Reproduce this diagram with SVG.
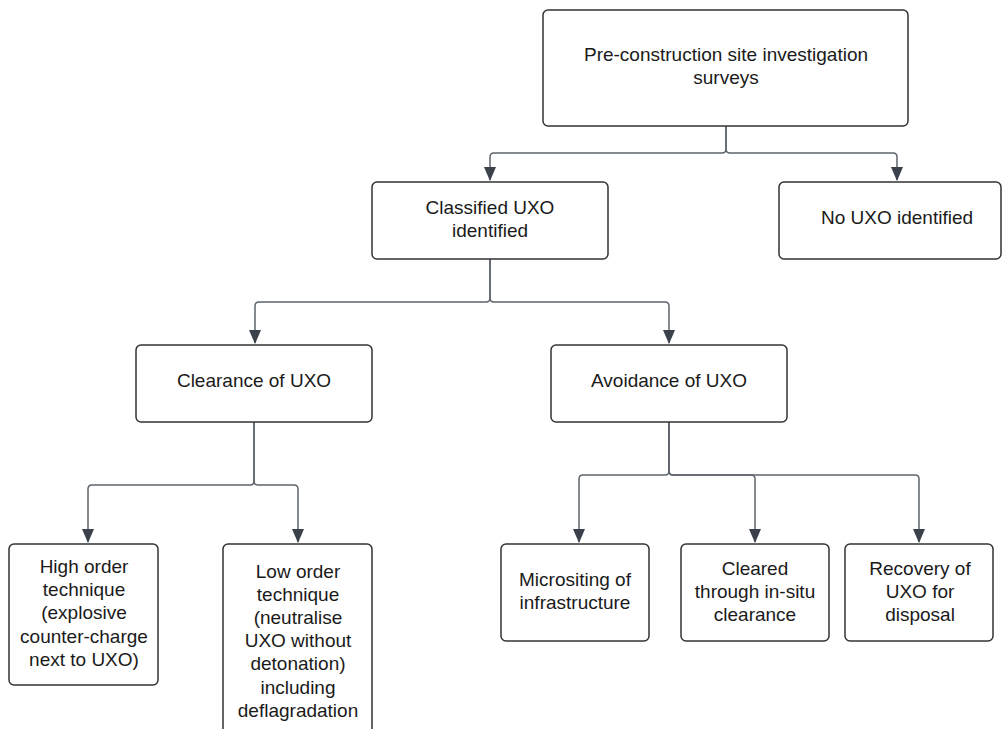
<svg xmlns="http://www.w3.org/2000/svg" width="1003" height="729" viewBox="0 0 1003 729">
<style>
.box{fill:#ffffff;stroke:#333333;stroke-width:1.5}
.t{font-family:"Liberation Sans",Arial,sans-serif;font-size:19px;fill:#1a1a1a;text-anchor:middle}
.c{fill:none;stroke:#5e646d;stroke-width:1.5}
</style>
<defs>
<marker id="ahd" markerUnits="userSpaceOnUse" markerWidth="14" markerHeight="12" refX="13" refY="6" orient="auto" viewBox="0 0 14 12">
<path d="M0,0 L14,6 L0,12 Z" fill="#3a414a"/>
</marker>
</defs>
<rect width="1003" height="729" fill="#ffffff"/>
<g id="connectors">
<path class="c" marker-end="url(#ahd)" d="M726,126 V149 Q726,153 722,153 H494 Q490,153 490,157 V180"/>
<path class="c" marker-end="url(#ahd)" d="M726,126 V149 Q726,153 730,153 H893 Q897,153 897,157 V180"/>
<path class="c" marker-end="url(#ahd)" d="M490,259 V298 Q490,302 486,302 H259 Q255,302 255,306 V343"/>
<path class="c" marker-end="url(#ahd)" d="M490,259 V298 Q490,302 494,302 H665 Q669,302 669,306 V343"/>
<path class="c" marker-end="url(#ahd)" d="M254,422 V481 Q254,485 250,485 H92 Q88,485 88,489 V542"/>
<path class="c" marker-end="url(#ahd)" d="M254,422 V481 Q254,485 258,485 H294 Q298,485 298,489 V542"/>
<path class="c" marker-end="url(#ahd)" d="M669,422 V471 Q669,475 665,475 H583 Q579,475 579,479 V542"/>
<path class="c" marker-end="url(#ahd)" d="M669,422 V471 Q669,475 673,475 H751 Q755,475 755,479 V542"/>
<path class="c" marker-end="url(#ahd)" d="M669,422 V471 Q669,475 673,475 H915 Q919,475 919,479 V542"/>
</g>
<g id="n-survey">
<rect class="box" x="543" y="10" width="365" height="116" rx="5"/>
<text class="t" x="726" y="61">Pre-construction site investigation</text>
<text class="t" x="726" y="84">surveys</text>
</g>
<g id="n-classified">
<rect class="box" x="372" y="182" width="236" height="77" rx="5"/>
<text class="t" x="490" y="214">Classified UXO</text>
<text class="t" x="490" y="237">identified</text>
</g>
<g id="n-none">
<rect class="box" x="779" y="182" width="222" height="77" rx="5"/>
<text class="t" x="897" y="224">No UXO identified</text>
</g>
<g id="n-clearance">
<rect class="box" x="136" y="345" width="236" height="77" rx="5"/>
<text class="t" x="254" y="387">Clearance of UXO</text>
</g>
<g id="n-avoidance">
<rect class="box" x="551" y="345" width="236" height="77" rx="5"/>
<text class="t" x="669" y="387">Avoidance of UXO</text>
</g>
<g id="n-high">
<rect class="box" x="9" y="544" width="149" height="141" rx="5"/>
<text class="t" x="84" y="573">High order</text>
<text class="t" x="84" y="596">technique</text>
<text class="t" x="84" y="619">(explosive</text>
<text class="t" x="84" y="643">counter-charge</text>
<text class="t" x="84" y="666">next to UXO)</text>
</g>
<g id="n-low">
<rect class="box" x="223" y="544" width="149" height="192" rx="5"/>
<text class="t" x="298" y="578">Low order</text>
<text class="t" x="298" y="601">technique</text>
<text class="t" x="298" y="624">(neutralise</text>
<text class="t" x="298" y="647">UXO without</text>
<text class="t" x="298" y="670">detonation)</text>
<text class="t" x="298" y="694">including</text>
<text class="t" x="298" y="717">deflagradation</text>
</g>
<g id="n-micro">
<rect class="box" x="501" y="544" width="148" height="97" rx="5"/>
<text class="t" x="575" y="586">Micrositing of</text>
<text class="t" x="575" y="609">infrastructure</text>
</g>
<g id="n-cleared">
<rect class="box" x="681" y="544" width="148" height="97" rx="5"/>
<text class="t" x="755" y="575">Cleared</text>
<text class="t" x="755" y="598">through in-situ</text>
<text class="t" x="755" y="621">clearance</text>
</g>
<g id="n-recovery">
<rect class="box" x="845" y="544" width="148" height="97" rx="5"/>
<text class="t" x="920" y="575">Recovery of</text>
<text class="t" x="920" y="598">UXO for</text>
<text class="t" x="920" y="621">disposal</text>
</g>
</svg>
